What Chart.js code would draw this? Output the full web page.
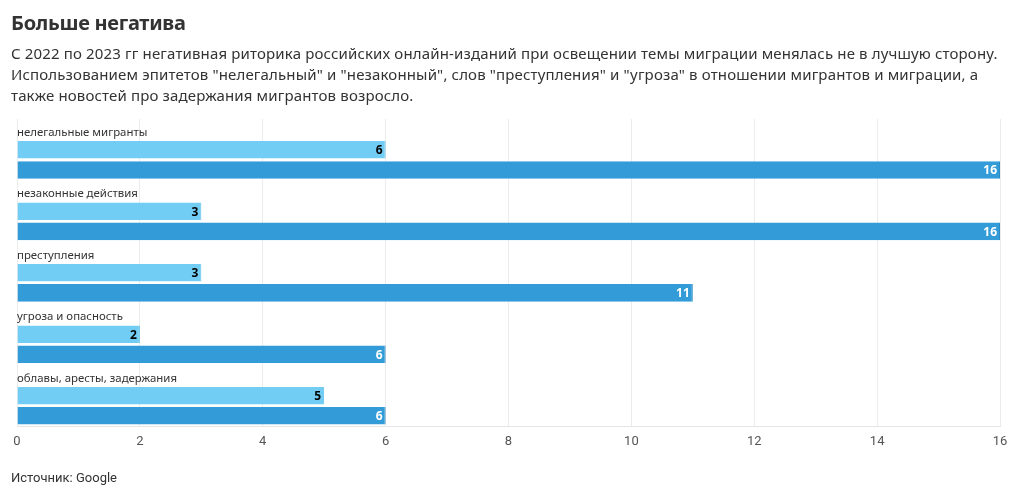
<!DOCTYPE html>
<html><head><meta charset="utf-8">
<script src="https://cdn.jsdelivr.net/npm/chart.js@4"></script>
<style>
html,body{margin:0;padding:0;background:#fff;}
body{width:1020px;height:498px;position:relative;overflow:hidden;font-family:"Noto Sans","Open Sans",sans-serif;}
#title{position:absolute;left:11px;top:9px;font-size:20px;font-weight:700;color:#333;letter-spacing:-0.3px;}
#sub{position:absolute;left:11px;top:43px;width:1008px;font-size:15px;line-height:21px;color:#333;letter-spacing:0.15px;}
#src{position:absolute;left:11px;top:470px;font-family:"Liberation Sans Narrow","Roboto",sans-serif;font-size:13px;color:#333;}
#wrap{position:absolute;left:0;top:0;width:1020px;height:498px;}
</style></head><body>
<div id="wrap"><canvas id="c" width="1020" height="498"></canvas></div>
<div id="title">Больше негатива</div>
<div id="sub">С 2022 по 2023 гг негативная риторика российских онлайн-изданий при освещении темы миграции менялась не в лучшую сторону. Использованием эпитетов "нелегальный" и "незаконный", слов "преступления" и "угроза" в отношении мигрантов и миграции, а также новостей про задержания мигрантов возросло.</div>
<div id="src">Источник: Google</div>
<script>
const categories = ["нелегальные мигранты","незаконные действия","преступления","угроза и опасность","облавы, аресты, задержания"];
const values2022 = [6,3,3,2,5];
const values2023 = [16,16,11,6,6];
const spacer = [null,null,null,null,null];
const xTicks = [0,2,4,6,8,10,12,14,16];

const labelPlugin = {
  id:'labels',
  afterDatasetsDraw(chart){
    const ctx = chart.ctx;
    const xs = chart.scales.x;
    ctx.save();
    const meta0 = chart.getDatasetMeta(1);
    ctx.font = '11.4px "Noto Sans", "Open Sans", sans-serif';
    ctx.fillStyle = '#333';
    ctx.textAlign = 'left';
    ctx.textBaseline = 'middle';
    meta0.data.forEach((bar,i)=>{
      ctx.fillText(categories[i], xs.left, bar.y - 17);
    });
    ctx.font = 'bold 12px "Noto Sans", "Open Sans", sans-serif';
    ctx.textAlign = 'right';
    [[1,values2022,'#000','#72cdf4'],[2,values2023,'#fff','#339cd8']].forEach(([di,vals,fill,stroke])=>{
      chart.getDatasetMeta(di).data.forEach((bar,i)=>{
        ctx.lineWidth = 3;
        ctx.strokeStyle = stroke;
        ctx.lineJoin = 'round';
        ctx.strokeText(String(vals[i]), bar.x - 3, bar.y + 1);
        ctx.fillStyle = fill;
        ctx.fillText(String(vals[i]), bar.x - 3, bar.y + 1);
      });
    });
    ctx.restore();
  }
};

new Chart(document.getElementById('c'), {
  type:'bar',
  data:{
    labels:categories,
    datasets:[
      {label:'', data:spacer, backgroundColor:'rgba(0,0,0,0)'},
      {label:'2022', data:values2022, backgroundColor:'#72cdf4', borderColor:'#5fbfe9', borderWidth:{top:0,bottom:0,left:0,right:1}},
      {label:'2023', data:values2023, backgroundColor:'#339cd8', borderColor:'#2a8cc6', borderWidth:{top:0,bottom:0,left:0,right:1}}
    ]
  },
  options:{
    indexAxis:'y',
    responsive:false,
    animation:false,
    devicePixelRatio:1,
    layout:{padding:{left:17,top:119,right:20,bottom:40}},
    datasets:{bar:{categoryPercentage:0.984, barPercentage:0.87}},
    plugins:{legend:{display:false}, tooltip:{enabled:false}},
    scales:{
      x:{
        min:0,max:16,
        afterBuildTicks(axis){ axis.ticks = xTicks.map(v=>({value:v})); },
        grid:{color:'#ececec', drawTicks:false, lineWidth:1},
        border:{display:true,color:'#e6e6e6'},
        ticks:{color:'#555', padding:8, font:{family:'"Liberation Sans Narrow", Roboto, sans-serif', size:13}}
      },
      y:{display:false}
    }
  },
  plugins:[labelPlugin]
});
</script>
</body></html>
